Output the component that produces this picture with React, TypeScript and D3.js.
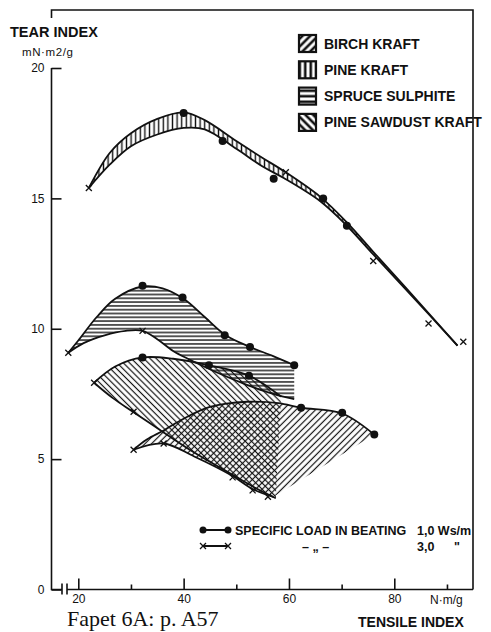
import React, { useRef, useEffect } from 'react';
import * as d3 from 'd3';

type Pt = [number, number];

// pine kraft band (vertical hatching)
const pineKraftUpper: Pt[] = [[22, 15.4], [26, 16.75], [30, 17.5], [35, 18.05], [40, 18.3], [44, 18.0], [50, 17.2], [55, 16.55], [59, 16.05], [66, 15.05], [71, 14.08], [76, 12.95], [82, 11.62], [92, 9.35]];
const pineKraftLower: Pt[] = [[22, 15.4], [26, 16.3], [30, 17.0], [35, 17.45], [40, 17.7], [44, 17.65], [50, 16.9], [55, 16.22], [59, 15.78], [66, 14.88], [71, 13.95], [76, 12.85], [82, 11.55], [92, 9.35]];
const pineKraftDots: Pt[] = [[40, 18.27], [47.4, 17.2], [57.1, 15.75], [66.5, 15.0], [71, 13.95]];
const pineKraftCrosses: Pt[] = [[22, 15.4], [59.4, 16.0], [76, 12.6], [86.5, 10.2], [93.1, 9.5]];

// spruce sulphite band (horizontal hatching)
const spruceUpper: Pt[] = [[18.1, 9.08], [20, 9.55], [23.5, 10.45], [27, 11.15], [32.2, 11.62], [36, 11.55], [40, 11.15], [44, 10.45], [48, 9.75], [52.6, 9.3], [57, 8.95], [61, 8.6]];
const spruceLower: Pt[] = [[18.1, 9.08], [21, 9.45], [25, 9.75], [29, 9.92], [32.2, 9.92], [35, 9.6], [38, 9.15], [41.3, 8.8], [46, 8.35], [52, 7.85], [57, 7.5], [61, 7.3]];
const spruceDots: Pt[] = [[32.2, 11.65], [39.8, 11.2], [47.8, 9.75], [52.6, 9.3], [61, 8.6]];
const spruceCrosses: Pt[] = [[18.1, 9.08], [32.2, 9.92]];

// pine sawdust kraft band (\\\ hatching)
const sawdustUpper: Pt[] = [[23, 7.93], [27, 8.55], [32.2, 8.9], [38, 8.85], [44.8, 8.6], [52.4, 8.2], [58.5, 7.4]];
const sawdustLower: Pt[] = [[23, 7.93], [26.5, 7.35], [30.5, 6.8], [36, 6.05], [42, 5.25], [49.3, 4.4], [53.1, 3.95], [57.5, 3.5]];
const sawdustDots: Pt[] = [[32.2, 8.9], [44.8, 8.6], [52.4, 8.2]];
const sawdustCrosses: Pt[] = [[23, 7.93], [30.5, 6.82]];

// birch kraft band (/// hatching)
const birchUpper: Pt[] = [[30.5, 5.36], [33, 5.75], [36.2, 6.1], [40, 6.55], [45, 7.0], [52, 7.2], [58, 7.15], [62.3, 6.97], [70.1, 6.75], [76.2, 5.94]];
const birchLower: Pt[] = [[30.5, 5.36], [36.2, 5.6], [42, 5.1], [49.3, 4.35], [53.1, 3.85], [57, 3.55]];
const birchDots: Pt[] = [[62.3, 6.97], [70.1, 6.78], [76.2, 5.94]];
const birchCrosses: Pt[] = [[30.5, 5.36], [36.2, 5.6], [49.3, 4.3], [53.1, 3.8], [56, 3.56]];

const xMajor = [20, 40, 60, 80];
const xMinor = [30, 50, 70, 90];
const yTicks = [0, 5, 10, 15, 20];
const legendNames = ['BIRCH KRAFT', 'PINE KRAFT', 'SPRUCE SULPHITE', 'PINE SAWDUST KRAFT'];
const legendAngles = [45, 0, 90, -45];

const SANS = '"Liberation Sans", Arial, sans-serif';

const App = () => {
  const svgRef = useRef<SVGSVGElement>(null);

  useEffect(() => {
    const svg = d3.select(svgRef.current);
    svg.selectAll('*').remove();

    const x = d3.scaleLinear().domain([20, 80]).range([78.3, 394.3]);
    const y = d3.scaleLinear().domain([0, 20]).range([589.5, 68]);
    const left = 51.5;
    const right = 473;
    const bottom = y(0);

    // hatch patterns
    const defs = svg.append('defs');
    const hatch = (id: string, angle: number, gap: number, sw: number) => {
      const p = defs
        .append('pattern')
        .attr('id', id)
        .attr('patternUnits', 'userSpaceOnUse')
        .attr('width', gap)
        .attr('height', gap)
        .attr('patternTransform', `rotate(${angle})`);
      p.append('line')
        .attr('x1', gap / 2)
        .attr('y1', -1)
        .attr('x2', gap / 2)
        .attr('y2', gap + 1)
        .attr('stroke', '#111')
        .attr('stroke-width', sw);
    };
    hatch('h-pine', 0, 4.6, 1.4);
    hatch('h-spruce', 90, 3.8, 1.4);
    hatch('h-sawdust', -45, 4.4, 1.2);
    hatch('h-birch', 45, 4.6, 1.2);
    legendAngles.forEach((a, i) => hatch(`h-leg${i}`, a, 5.5, 2.6));

    const line = d3
      .line<Pt>()
      .x((d) => x(d[0]))
      .y((d) => y(d[1]))
      .curve(d3.curveCatmullRom.alpha(0.5));

    const bandPath = (upper: Pt[], lower: Pt[]) =>
      (line(upper) as string) + (line([...lower].reverse()) as string).replace(/^M/, 'L') + 'Z';

    const bands = [
      { upper: pineKraftUpper, lower: pineKraftLower, fill: 'h-pine' },
      { upper: spruceUpper, lower: spruceLower, fill: 'h-spruce' },
      { upper: sawdustUpper, lower: sawdustLower, fill: 'h-sawdust' },
      { upper: birchUpper, lower: birchLower, fill: 'h-birch' },
    ];

    const g = svg.append('g');
    bands.forEach((b) => {
      g.append('path').attr('d', bandPath(b.upper, b.lower)).attr('fill', `url(#${b.fill})`);
    });
    bands.forEach((b) => {
      [b.upper, b.lower].forEach((c) => {
        g.append('path')
          .attr('d', line(c))
          .attr('fill', 'none')
          .attr('stroke', '#111')
          .attr('stroke-width', 1.8);
      });
    });

    // measured points
    const dots = [...pineKraftDots, ...spruceDots, ...sawdustDots, ...birchDots];
    const crosses = [...pineKraftCrosses, ...spruceCrosses, ...sawdustCrosses, ...birchCrosses];
    g.selectAll('.dot')
      .data(dots)
      .join('circle')
      .attr('cx', (d) => x(d[0]))
      .attr('cy', (d) => y(d[1]))
      .attr('r', 4)
      .attr('fill', '#111');
    const cross = (sel: any, cx: number, cy: number, s: number) =>
      sel
        .append('path')
        .attr('d', `M${cx - s},${cy - s}L${cx + s},${cy + s}M${cx - s},${cy + s}L${cx + s},${cy - s}`)
        .attr('stroke', '#111')
        .attr('stroke-width', 1.3);
    crosses.forEach((d) => cross(g, x(d[0]), y(d[1]), 3));

    // frame
    const frame = svg.append('g').attr('stroke', '#111').attr('fill', 'none').attr('stroke-width', 1.6);
    frame.append('path').attr('d', `M${left},18V10H${right}V${bottom}`);
    frame.append('path').attr('d', `M${left},${y(20)}V${bottom}H${right}`);
    // axis break
    svg.append('rect').attr('x', 62).attr('y', bottom - 2).attr('width', 5).attr('height', 4).attr('fill', '#fff');
    svg.append('path')
      .attr('d', `M62,${bottom - 6}V${bottom + 5}M67,${bottom - 6}V${bottom + 5}`)
      .attr('stroke', '#111')
      .attr('stroke-width', 1.6);

    // x axis ticks (major with labels, minor without)
    const xAxis = svg.append('g').attr('transform', `translate(0,${bottom})`);
    xAxis.call(d3.axisBottom(x).tickValues(xMajor).tickSize(-11).tickPadding(5).tickFormat(d3.format('d')));
    const xMinorAxis = svg.append('g').attr('transform', `translate(0,${bottom})`);
    xMinorAxis.call(d3.axisBottom(x).tickValues(xMinor).tickSize(-5).tickFormat(() => ''));
    [xAxis, xMinorAxis].forEach((a) => {
      a.selectAll('.domain').remove();
      a.selectAll('.tick line').attr('stroke', '#111').attr('stroke-width', 1.6);
    });
    xAxis.selectAll('text').attr('fill', '#111').attr('font-size', 12).attr('font-family', SANS);

    // y axis ticks
    const yAxis = svg.append('g').attr('transform', `translate(${left},0)`);
    yAxis.call(d3.axisLeft(y).tickValues(yTicks).tickSize(-10).tickPadding(7).tickFormat(d3.format('d')));
    yAxis.selectAll('.domain').remove();
    yAxis.selectAll('.tick line').attr('stroke', '#111').attr('stroke-width', 1.6);
    yAxis.selectAll('text').attr('fill', '#111').attr('font-size', 12).attr('font-family', SANS);

    const text = (tx: number, ty: number, s: string, size: number, weight = 'normal', family = SANS) =>
      svg
        .append('text')
        .attr('x', tx)
        .attr('y', ty)
        .attr('font-size', size)
        .attr('font-weight', weight)
        .attr('font-family', family)
        .attr('fill', '#111')
        .text(s);

    text(10, 37, 'TEAR INDEX', 14.5, 'bold');
    text(22, 56, 'mN·m2/g', 11.5).attr('letter-spacing', 0.6);
    text(430, 604, 'N·m/g', 12);
    text(358, 627, 'TENSILE INDEX', 14, 'bold');
    text(67, 626, 'Fapet 6A: p. A57', 22, 'normal', '"Liberation Serif", "Times New Roman", serif');

    // pulp legend
    legendNames.forEach((name, i) => {
      const ly = 35 + i * 26.3;
      svg.append('rect')
        .attr('x', 299)
        .attr('y', ly)
        .attr('width', 17)
        .attr('height', 17)
        .attr('fill', `url(#h-leg${i})`)
        .attr('stroke', '#111')
        .attr('stroke-width', 2.2);
      text(324, ly + 13.5, name, 14, 'bold');
    });

    // beating load legend
    const ly1 = 530;
    const ly2 = 546;
    svg.append('path').attr('d', `M203,${ly1}H228M203,${ly2}H228`).attr('stroke', '#111').attr('stroke-width', 2);
    [203, 228].forEach((lx) => {
      svg.append('circle').attr('cx', lx).attr('cy', ly1).attr('r', 3.5).attr('fill', '#111');
      cross(svg, lx, ly2, 3);
    });
    text(235, ly1 + 4.5, 'SPECIFIC LOAD IN BEATING', 12.5, 'bold');
    text(417, ly1 + 4.5, '1,0 Ws/m', 12.5, 'bold');
    text(302, ly2 + 4.5, '–  „  –', 12.5, 'bold');
    text(417, ly2 + 4.5, '3,0', 12.5, 'bold');
    text(454, ly2 + 4.5, '"', 12.5, 'bold');
  }, []);

  return (
    <svg
      ref={svgRef}
      width={491}
      height={632}
      style={{ position: 'absolute', left: 0, top: 0, background: '#fff' }}
    />
  );
};

export default App;
